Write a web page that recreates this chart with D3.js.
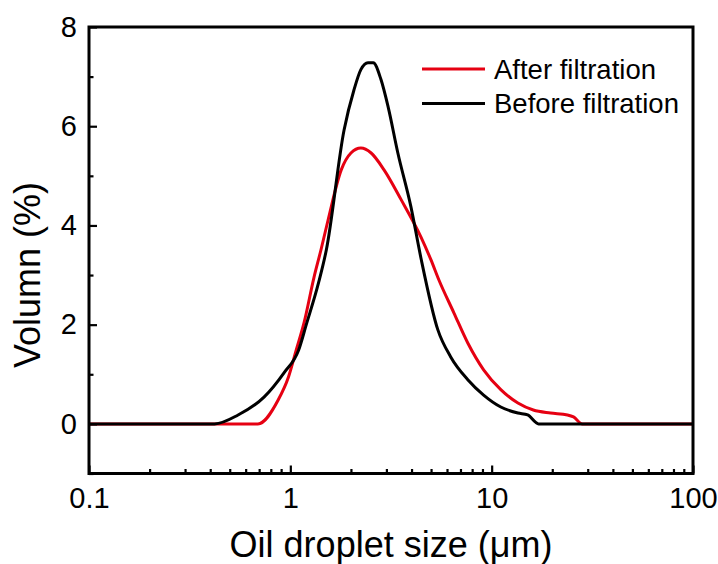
<!DOCTYPE html>
<html>
<head>
<meta charset="utf-8">
<script src="https://cdn.jsdelivr.net/npm/d3@7"></script>
<style>
  body { margin: 0; background: #fff; }
  text { font-family: "Liberation Sans", Arial, sans-serif; fill: #000; }
</style>
</head>
<body>
<div id="chart"></div>
<script>
// droplet sizes (um) and volume (%)
const beforeSize = [0.1, 0.42, 0.55, 0.74, 0.93, 1.1, 1.2, 1.38, 1.51, 1.85, 2.07, 2.24, 2.43, 2.58, 2.82, 3.06, 3.42, 3.97, 4.45, 5.4, 6.26, 7.61, 9.12, 11.1, 13.5, 15.1, 17.1, 100];
const beforeVol = [0, 0, 0.18, 0.54, 1.03, 1.49, 2.0, 2.84, 3.51, 5.93, 6.73, 7.14, 7.28, 7.28, 6.94, 6.39, 5.46, 4.38, 3.35, 1.9, 1.35, 0.89, 0.58, 0.34, 0.22, 0.18, 0, 0];

const afterSize = [0.1, 0.69, 0.87, 0.98, 1.07, 1.17, 1.31, 1.42, 1.54, 1.79, 2.0, 2.24, 2.52, 2.92, 3.55, 4.45, 4.99, 5.47, 6.49, 7.61, 9.12, 11.1, 13.5, 16.1, 19.6, 23.8, 25.5, 28.2, 100];
const afterVol = [0, 0, 0.48, 0.95, 1.49, 2.04, 2.95, 3.51, 4.11, 5.12, 5.46, 5.56, 5.46, 5.12, 4.52, 3.77, 3.31, 2.9, 2.24, 1.63, 1.09, 0.69, 0.42, 0.28, 0.22, 0.18, 0.14, 0, 0];

const xMajor = [0.1, 1, 10, 100];
const yMajor = [0, 2, 4, 6, 8];
const yMinor = [-1, 1, 3, 5, 7];
const seriesNames = ["After filtration", "Before filtration"];
const seriesColors = ["#e60012", "#000000"];

let svgWidth = 718,
  svgHeight = 564,
  margin = { top: 27, right: 25, bottom: 90.5, left: 89 },
  width = svgWidth - margin.left - margin.right,
  height = svgHeight - margin.top - margin.bottom;

let x = d3.scaleLog().domain([0.1, 100]).range([0, width]),
  y = d3.scaleLinear().domain([-1, 8]).range([height, 0]);

// minor ticks 2..9 in each decade
let xMinor = [];
[0.1, 1, 10].forEach(function(dec) {
  for (let k = 2; k < 10; k++) xMinor.push(+(dec * k).toFixed(2));
});

let svg = d3
  .select("#chart")
  .append("svg")
  .attr("width", svgWidth)
  .attr("height", svgHeight);

let g = svg
  .append("g")
  .attr("transform", "translate(" + margin.left + "," + margin.top + ")");

let line = d3
  .line()
  .x(function(d) {
    return x(d[0]);
  })
  .y(function(d) {
    return y(d[1]);
  })
  .curve(d3.curveMonotoneX);

const series = [
  { name: seriesNames[0], color: seriesColors[0], pts: d3.zip(afterSize, afterVol) },
  { name: seriesNames[1], color: seriesColors[1], pts: d3.zip(beforeSize, beforeVol) }
];

g.selectAll(".series")
  .data(series)
  .enter()
  .append("path")
  .attr("class", "series")
  .attr("fill", "none")
  .attr("stroke", function(d) {
    return d.color;
  })
  .attr("stroke-width", 3)
  .attr("stroke-linejoin", "round")
  .attr("d", function(d) {
    return line(d.pts);
  });

// axes, ticks pointing inward
let xAxis = d3
  .axisBottom(x)
  .tickValues(xMajor)
  .tickSize(-8)
  .tickPadding(14)
  .tickFormat(function(d) {
    return String(d);
  });

let xAxisMinor = d3
  .axisBottom(x)
  .tickValues(xMinor)
  .tickSize(-4.5)
  .tickFormat("");

let yAxis = d3
  .axisLeft(y)
  .tickValues(yMajor)
  .tickSize(-8)
  .tickPadding(12);

let yAxisMinor = d3
  .axisLeft(y)
  .tickValues(yMinor)
  .tickSize(-4.5)
  .tickFormat("");

g.append("g")
  .attr("transform", "translate(0," + height + ")")
  .call(xAxisMinor);
g.append("g")
  .attr("class", "x-axis")
  .attr("transform", "translate(0," + height + ")")
  .call(xAxis);
g.append("g").call(yAxisMinor);
g.append("g")
  .attr("class", "y-axis")
  .call(yAxis);

g.selectAll(".domain").remove();
g.selectAll(".tick line")
  .attr("stroke", "#000")
  .attr("stroke-width", 2.2);
g.selectAll(".tick text")
  .style("font-size", "29px")
  .attr("fill", "#000");

// frame
g.append("rect")
  .attr("width", width)
  .attr("height", height)
  .attr("fill", "none")
  .attr("stroke", "#000")
  .attr("stroke-width", 3);

// axis titles
svg
  .append("text")
  .attr("x", margin.left + width / 2)
  .attr("y", 557)
  .attr("text-anchor", "middle")
  .style("font-size", "36px")
  .text("Oil droplet size (\u03bcm)");

svg
  .append("text")
  .attr("transform", "translate(40,275) rotate(-90)")
  .attr("text-anchor", "middle")
  .style("font-size", "36px")
  .text("Volumn (%)");

// legend
let legend = svg
  .append("g")
  .selectAll("g")
  .data(series)
  .enter()
  .append("g")
  .attr("transform", function(d, i) {
    return "translate(422," + (69 + i * 34.5) + ")";
  });

legend
  .append("line")
  .attr("x1", 0)
  .attr("x2", 63)
  .attr("stroke", function(d) {
    return d.color;
  })
  .attr("stroke-width", 3);

legend
  .append("text")
  .attr("x", 72)
  .attr("dy", "0.36em")
  .style("font-size", "27.5px")
  .text(function(d) {
    return d.name;
  });
</script>
</body>
</html>
